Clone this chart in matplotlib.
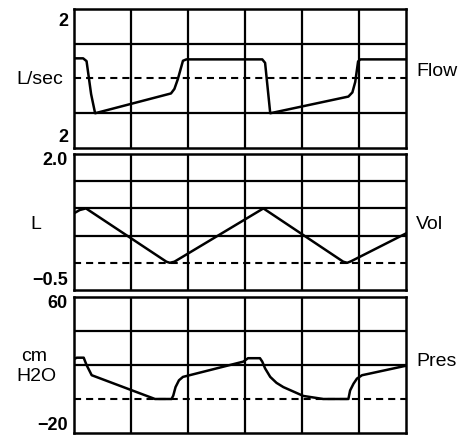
import matplotlib
matplotlib.use('Agg')
import matplotlib.pyplot as plt

# ventilator waveforms, x in grid divisions
flow_t = [0, 0.16, 0.22, 0.30, 0.37, 1.70, 1.76, 1.82, 1.91, 1.97, 3.30, 3.35, 3.44, 4.81, 4.88, 4.93, 4.98, 5.02, 5.82]
flow_v = [0.58, 0.58, 0.50, -0.45, -1.0, -0.43, -0.30, -0.02, 0.51, 0.55, 0.55, 0.45, -1.0, -0.52, -0.40, -0.10, 0.49, 0.55, 0.55]

vol_t = [0, 0.10, 0.21, 1.62, 1.68, 1.76, 3.32, 4.72, 4.79, 4.86, 5.82]
vol_v = [0.91, 0.97, 1.0, 0.02, 0.0, 0.02, 1.0, 0.02, 0.0, 0.03, 0.54]

pres_t = [0, 0.05, 0.17, 0.22, 0.31, 1.42, 1.71, 1.74, 1.78, 1.84, 1.91, 2.97, 3.05, 3.26, 3.30, 3.35, 3.44,
          3.55, 3.67, 4.02, 4.37, 4.81, 4.84, 4.90, 4.96, 5.05, 5.19, 5.81]
pres_v = [23.5, 24.3, 24.3, 20, 14, 0, 0, 2, 7, 11, 13, 22, 24, 24, 22, 18, 13,
          9.5, 7, 1.8, 0, 0, 5, 9, 12, 14, 15, 19.5]

W, H = 464, 436
fig = plt.figure(figsize=(W / 100, H / 100), dpi=100)

def box(top, bottom):
    # pixel box -> figure fraction
    return [74 / W, 1 - bottom / H, (406 - 74) / W, (bottom - top) / H]

panels = [
    dict(rect=box(9, 148), t=flow_t, v=flow_v, ylim=(-2, 2), grid=[-1, 1]),
    dict(rect=box(154, 290), t=vol_t, v=vol_v, ylim=(-0.5, 2.0), grid=[0.5, 1.0, 1.5]),
    dict(rect=box(297, 433), t=pres_t, v=pres_v, ylim=(-20, 60), grid=[20, 40]),
]

for p in panels:
    ax = fig.add_axes(p['rect'])
    ax.set_xlim(0, 5.82)
    ax.set_ylim(*p['ylim'])
    for x in range(1, 6):
        ax.axvline(x, color='black', lw=1.6)
    for y in p['grid']:
        ax.axhline(y, color='black', lw=1.6)
    ax.axhline(0, color='black', lw=1.5, ls=(0, (3.4, 2.4)))
    ax.plot(p['t'], p['v'], color='black', lw=1.8, solid_joinstyle='round')
    ax.set_xticks([])
    ax.set_yticks([])
    for s in ax.spines.values():
        s.set_linewidth(1.8)

def label(x, y, s, ha='right', size=14, weight='normal'):
    fig.text(x / W, 1 - y / H, s, ha=ha, va='center', fontsize=size,
             family='Liberation Sans', weight=weight)

# panel labels
label(68, 21, '2', weight='bold', size=13)
label(68, 138, '2', weight='bold', size=13)
label(63, 79, 'L/sec', size=14)
label(416, 72, 'Flow', ha='left', size=14)

label(68, 160, '2.0', weight='bold', size=13)
label(68, 280, '\u22120.5', weight='bold', size=13)
label(36, 224, 'L', ha='center', size=14)
label(416, 224, 'Vol', ha='left', size=14)

label(68, 303, '60', weight='bold', size=13)
label(68, 425, '\u221220', weight='bold', size=13)
label(34, 356, 'cm', ha='center', size=14)
label(36, 376, 'H2O', ha='center', size=14)
label(416, 361, 'Pres', ha='left', size=14)

fig.savefig('out.png', dpi=100)
